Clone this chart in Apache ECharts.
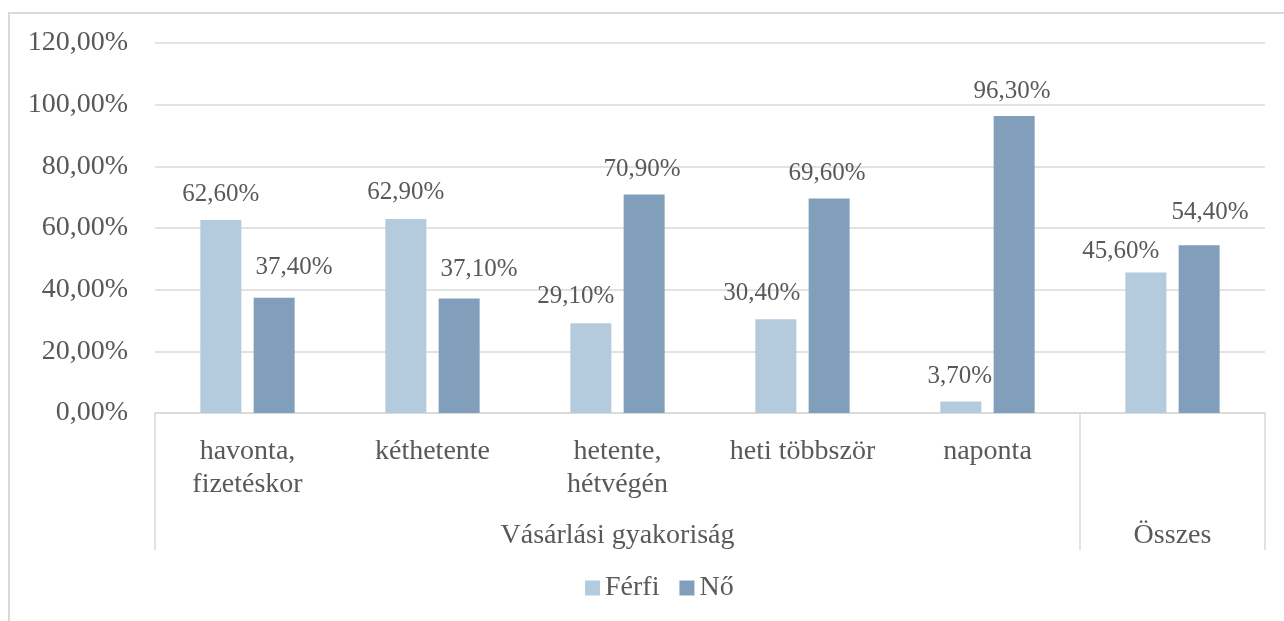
<!DOCTYPE html>
<html>
<head>
<meta charset="utf-8">
<script src="https://cdn.jsdelivr.net/npm/echarts@6/dist/echarts.min.js"></script>
<style>
  html, body { margin: 0; padding: 0; background: #fff; }
  #main { width: 1284px; height: 621px; }
</style>
</head>
<body>
<div id="main"></div>
<script>
// categories (first level) and groups (second level)
const categories = ['havonta,\nfizetéskor', 'kéthetente', 'hetente,\nhétvégén', 'heti többször', 'naponta', ''];
const groupNames = ['Vásárlási gyakoriság', 'Összes'];
const groupSpans = [5, 1];

// series values (share)
const ferfi = [0.626, 0.629, 0.291, 0.304, 0.037, 0.456];
const no = [0.374, 0.371, 0.709, 0.696, 0.963, 0.544];

const yTicks = [0, 0.2, 0.4, 0.6, 0.8, 1.0, 1.2];

// label nudges so they sit like in the original (overlap avoidance)
const ferfiLabelShift = [[0, -1], [0, -2], [-15, -2], [-14, -1], [-1, -1], [-25, 4]];
const noLabelShift = [[20, -6], [20, -5], [-2, 0], [-2, 0], [-2, 0], [11, -8]];

const font = 'Liberation Serif';
const textColor = '#595959';
const lineColor = '#d9d9d9';

function pct(v) {
  return (v * 100).toFixed(2).replace('.', ',') + '%';
}

function withShift(values, shifts) {
  return values.map((v, i) => ({ value: v, label: { offset: shifts[i] } }));
}

const labelStyle = {
  show: true,
  position: 'top',
  distance: 12,
  fontFamily: font,
  fontSize: 25,
  color: textColor,
  formatter: p => pct(p.value)
};

const chart = echarts.init(document.getElementById('main'));

chart.setOption({
  animation: false,
  textStyle: { fontFamily: font, color: textColor },
  grid: { left: 155, right: 19, top: 43, bottom: 208 },
  legend: {
    bottom: 14,
    left: 580,
    itemWidth: 15,
    itemHeight: 15,
    itemGap: 20,
    icon: 'rect',
    textStyle: { fontFamily: font, fontSize: 28, color: textColor },
    data: ['Férfi', 'Nő']
  },
  xAxis: {
    type: 'category',
    data: categories,
    axisLine: { lineStyle: { color: lineColor, width: 1.5 } },
    axisTick: { show: false },
    axisLabel: {
      interval: 0,
      margin: 22,
      fontFamily: font,
      fontSize: 28,
      lineHeight: 33,
      color: textColor
    }
  },
  yAxis: {
    type: 'value',
    min: yTicks[0],
    max: yTicks[yTicks.length - 1],
    interval: 0.2,
    axisLine: { show: false },
    axisTick: { show: false },
    splitLine: { lineStyle: { color: lineColor, width: 1.5 } },
    axisLabel: {
      margin: 27,
      fontFamily: font,
      fontSize: 28,
      color: textColor,
      formatter: pct
    }
  },
  series: [
    {
      name: 'Férfi',
      type: 'bar',
      data: withShift(ferfi, ferfiLabelShift),
      barWidth: 41,
      barGap: '30%',
      itemStyle: { color: '#b4cadd' },
      label: labelStyle
    },
    {
      name: 'Nő',
      type: 'bar',
      data: withShift(no, noLabelShift),
      barWidth: 41,
      itemStyle: { color: '#819fba' },
      label: labelStyle
    }
  ]
});

// second level of the category axis: separators and group names
const c0 = chart.convertToPixel({ xAxisIndex: 0 }, 0);
const c1 = chart.convertToPixel({ xAxisIndex: 0 }, 1);
const band = c1 - c0;
const axisY = chart.convertToPixel({ yAxisIndex: 0 }, 0);
const lineBottom = axisY + 137;

const graphics = [{
  type: 'rect',
  shape: { x: 9, y: 13, width: 1400, height: 700 },
  style: { fill: 'none', stroke: lineColor, lineWidth: 2 },
  silent: true
}];

let start = 0;
const bounds = [c0 - band / 2];
groupSpans.forEach(span => {
  bounds.push(c0 - band / 2 + (start + span) * band);
  start += span;
});
bounds.forEach(x => {
  graphics.push({
    type: 'line',
    shape: { x1: x, y1: axisY, x2: x, y2: lineBottom },
    style: { stroke: lineColor, lineWidth: 1.5 }
  });
});
groupNames.forEach((name, i) => {
  graphics.push({
    type: 'text',
    x: (bounds[i] + bounds[i + 1]) / 2,
    y: axisY + 123,
    style: {
      text: name,
      fontFamily: font,
      fontSize: 28,
      fill: textColor,
      align: 'center',
      verticalAlign: 'middle'
    }
  });
});

chart.setOption({ graphic: graphics });
</script>
</body>
</html>
